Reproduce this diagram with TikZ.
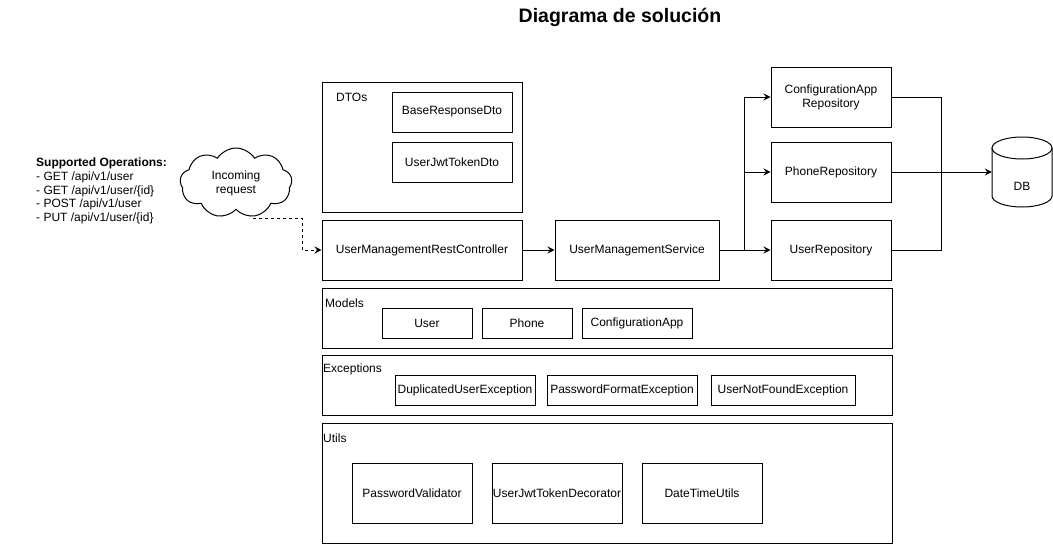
\documentclass[tikz,border=0pt]{standalone}
\usepackage{fontspec}
\setmainfont{Liberation Sans}
\usetikzlibrary{shapes.symbols,arrows.meta,calc}
\begin{document}
\begin{tikzpicture}[x=1pt,y=-1pt,
  txt/.style={font=\fontsize{12}{14}\selectfont, text=black},
  box/.style={txt, draw=black, line width=1pt, inner sep=0pt, align=center},
  grp/.style={draw=black, line width=1pt, inner sep=0pt},
  lbl/.style={txt, inner sep=0pt, anchor=west},
  link/.style={line width=1pt, draw=black},
  arr/.style={link, -{Stealth[length=7pt,width=7pt,inset=2.5pt]}}
]
\useasboundingbox[fill=white] (0,0) rectangle (1053,544);

% title
\node[font=\fontsize{19.5}{22}\selectfont\bfseries, inner sep=0pt] (title) at (620,17) {Diagrama de solución};

% supported operations
\node[txt, anchor=north west, align=left, inner sep=0pt, font=\fontsize{12}{13.6}\selectfont] (ops) at (36,158)
  {\textbf{Supported Operations:}\\- GET /api/v1/user\\- GET /api/v1/user/\{id\}\\- POST /api/v1/user\\- PUT /api/v1/user/\{id\}};

% cloud
\node[cloud, draw=black, line width=1pt, cloud puffs=9, cloud puff arc=115, cloud ignores aspect,
  minimum width=112pt, minimum height=70pt, inner sep=0pt, txt, align=center] (cloud) at (236,183) {Incoming\\request};

% DTOs group
\node[grp, minimum width=200pt, minimum height=130pt] (dtos) at (422,147) {};
\node[lbl] (dtoslbl) at (336,97) {DTOs};
\node[box, minimum width=120pt, minimum height=40pt] (base) at (452,112) {BaseResponseDto};
\node[box, minimum width=120pt, minimum height=40pt] (jwt) at (452,162) {UserJwtTokenDto};

% main flow
\node[box, minimum width=200pt, minimum height=60pt] (ctrl) at (422,250) {UserManagementRestController};
\node[box, minimum width=164pt, minimum height=60pt] (svc) at (637,250) {UserManagementService};
\node[box, minimum width=120pt, minimum height=60pt] (cfgrepo) at (831,97) {ConfigurationApp\\Repository};
\node[box, minimum width=120pt, minimum height=60pt] (phrepo) at (831,172) {PhoneRepository};
\node[box, minimum width=120pt, minimum height=60pt] (usrepo) at (831,250) {UserRepository};

% DB cylinder
\node[minimum width=60pt, minimum height=70pt, inner sep=0pt] (db) at (1022,172) {};
\draw[line width=1pt] (1022,148) ellipse [x radius=30pt, y radius=11pt];
\draw[line width=1pt] (992,148) -- (992,196) arc[start angle=180, end angle=360, x radius=30pt, y radius=11pt] -- (1052,148);
\node[txt, inner sep=0pt] (dblbl) at (1022,186) {DB};

% Models
\node[grp, minimum width=570pt, minimum height=60pt] (models) at (607,318) {};
\node[lbl] (modelslbl) at (325,303) {Models};
\node[box, minimum width=90pt, minimum height=30pt] (user) at (427,323) {User};
\node[box, minimum width=90pt, minimum height=30pt] (phone) at (527,323) {Phone};
\node[box, minimum width=110pt, minimum height=30pt] (cfgapp) at (637,323) {ConfigurationApp};

% Exceptions
\node[grp, minimum width=570pt, minimum height=60pt] (exc) at (607,385) {};
\node[lbl] (exclbl) at (323,369) {Exceptions};
\node[box, minimum width=140pt, minimum height=30pt] (dup) at (465,390) {DuplicatedUserException};
\node[box, minimum width=150pt, minimum height=30pt] (pwd) at (622,390) {PasswordFormatException};
\node[box, minimum width=144pt, minimum height=30pt] (nf) at (783,390) {UserNotFoundException};

% Utils
\node[grp, minimum width=570pt, minimum height=120pt] (utils) at (607,483) {};
\node[lbl] (utilslbl) at (323,438) {Utils};
\node[box, minimum width=120pt, minimum height=60pt] (pv) at (412,493) {PasswordValidator};
\node[box, minimum width=130pt, minimum height=60pt] (dec) at (557,493) {UserJwtTokenDecorator};
\node[box, minimum width=120pt, minimum height=60pt] (dt) at (702,493) {DateTimeUtils};

% connectors
\coordinate (cs) at (253,218);
\coordinate (bend) at (302,218);
\draw[arr, dash pattern=on 3pt off 3pt] (cs) -- (bend) |- (ctrl.west);
\draw[arr] (ctrl.east) -- (svc.west);
\coordinate (j) at (744,250);
\draw[link] (svc.east) -- (j);
\draw[arr] (j) |- (cfgrepo.west);
\draw[arr] (j) |- (phrepo.west);
\draw[arr] (j) -- (usrepo.west);
\coordinate (k) at (941,172);
\draw[link] (cfgrepo.east) -| (k);
\draw[link] (usrepo.east) -| (k);
\draw[arr] (phrepo.east) -- (db.west);
\end{tikzpicture}
\end{document}
